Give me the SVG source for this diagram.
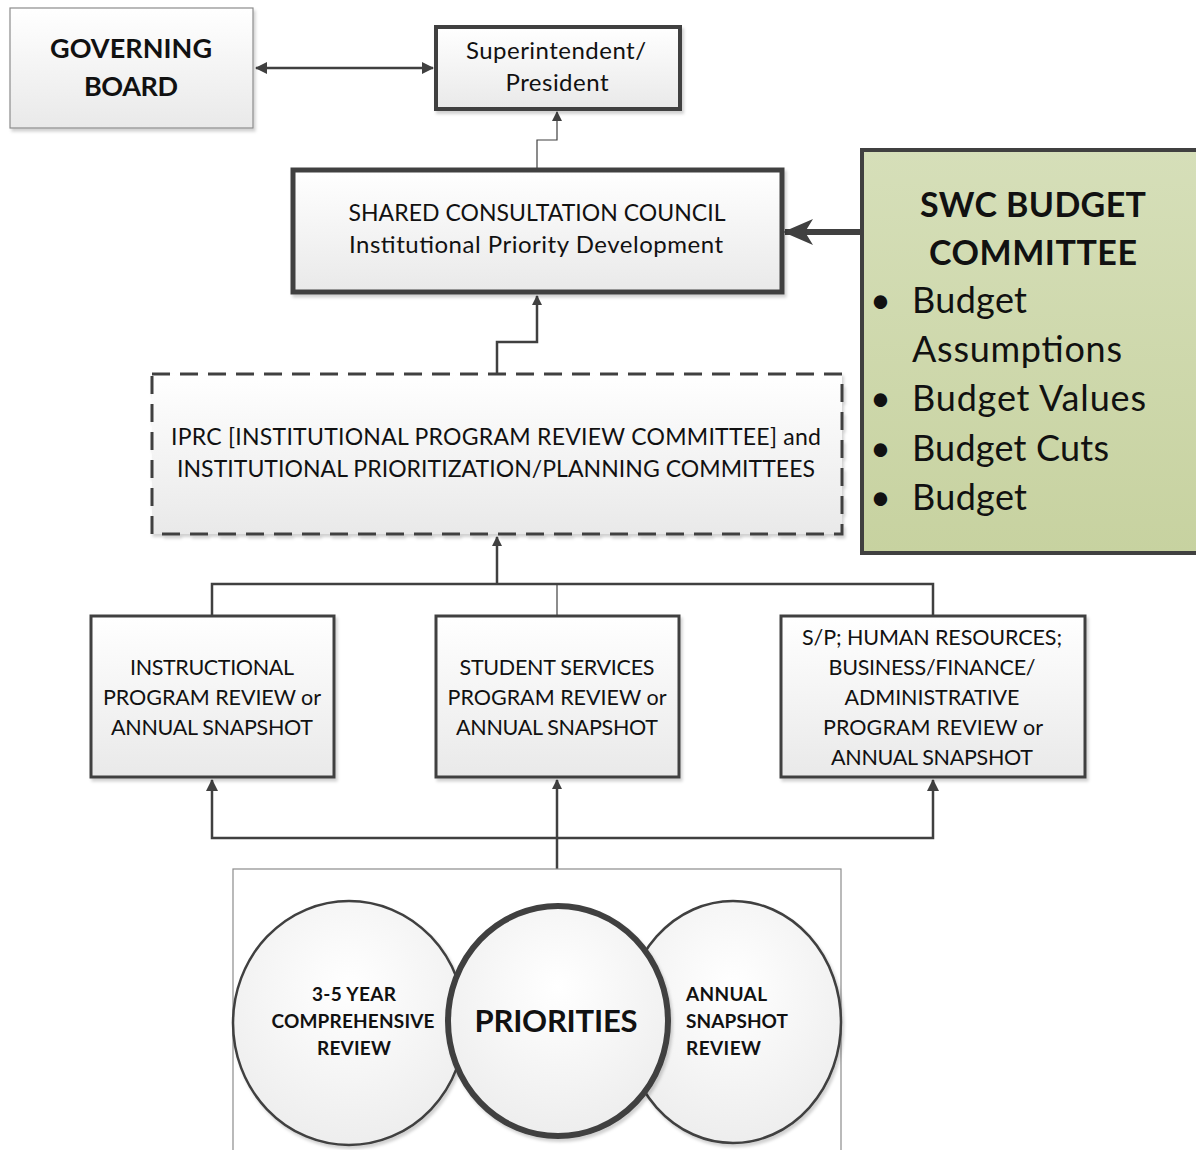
<svg xmlns="http://www.w3.org/2000/svg" width="1196" height="1150" viewBox="0 0 1196 1150">
  <defs>
    <linearGradient id="gBox" x1="0" y1="0" x2="0" y2="1">
      <stop offset="0" stop-color="#ffffff"/>
      <stop offset="1" stop-color="#e9e9e9"/>
    </linearGradient>
    <linearGradient id="gGreen" x1="0" y1="0" x2="0" y2="1">
      <stop offset="0" stop-color="#d6dfb9"/>
      <stop offset="1" stop-color="#c7d2a0"/>
    </linearGradient>
    <radialGradient id="gCircle" cx="0.5" cy="0.35" r="0.7">
      <stop offset="0" stop-color="#ffffff"/>
      <stop offset="1" stop-color="#ececec"/>
    </radialGradient>
    <marker id="arrow" markerWidth="10" markerHeight="10" refX="9" refY="5" orient="auto" markerUnits="userSpaceOnUse" viewBox="0 0 10 10">
      <path d="M0,0 L10,5 L0,10 Z" fill="#404040"/>
    </marker>
    <marker id="arrowStart" markerWidth="12" markerHeight="12" refX="1" refY="6" orient="auto" markerUnits="userSpaceOnUse" viewBox="0 0 12 12">
      <path d="M12,0 L0,6 L12,12 Z" fill="#404040"/>
    </marker>
    <marker id="arrowEnd" markerWidth="12" markerHeight="12" refX="11" refY="6" orient="auto" markerUnits="userSpaceOnUse" viewBox="0 0 12 12">
      <path d="M0,0 L12,6 L0,12 Z" fill="#404040"/>
    </marker>
    <marker id="arrowBig" markerWidth="30" markerHeight="26" refX="28" refY="13" orient="auto" markerUnits="userSpaceOnUse" viewBox="0 0 30 26">
      <path d="M30,13 L0,0 L8,13 L0,26 Z" fill="#404040"/>
    </marker>
    <filter id="shadow" x="-5%" y="-5%" width="112%" height="115%">
      <feDropShadow dx="2" dy="3" stdDeviation="1.5" flood-color="#000" flood-opacity="0.18"/>
    </filter>
  </defs>
  <style>
    text { font-family: Lato, "Open Sans", "Liberation Sans", sans-serif; fill: #111; text-anchor: middle; }
    .box { fill: url(#gBox); stroke: #404040; stroke-width: 3; filter: url(#shadow); }
    .label { font-size: 21.5px; }
    .big { font-size: 24px; }
    .bold { font-weight: bold; }
    .small { font-size: 19px; font-weight: bold; }
    .left { text-anchor: start; }
    .conn { fill: none; stroke: #404040; stroke-width: 2.5; }
    .thin { fill: none; stroke: #404040; stroke-width: 1.2; }
    .bullet { font-size: 36px; text-anchor: start; }
  </style>

  <rect width="1196" height="1150" fill="#ffffff"/>

  <!-- Connectors -->
  <g id="connectors">
    <line class="conn" x1="256" y1="68" x2="433" y2="68" marker-start="url(#arrowStart)" marker-end="url(#arrowEnd)"/>
    <polyline class="thin" points="537,170 537,140 557,140 557,112" marker-end="url(#arrow)"/>
    <polyline class="conn" points="497,374 497,342 537,342 537,296" marker-end="url(#arrow)"/>
    <line x1="864" y1="232" x2="785" y2="232" stroke="#404040" stroke-width="6" marker-end="url(#arrowBig)"/>
    <line x1="864" y1="224" x2="864" y2="252" stroke="#404040" stroke-width="6" stroke-linecap="round"/>
    <line class="conn" x1="497" y1="584" x2="497" y2="537" marker-end="url(#arrow)"/>
    <polyline class="conn" points="212,616 212,584 933,584 933,616"/>
    <line class="thin" x1="557" y1="584" x2="557" y2="616"/>
    <polyline class="conn" points="212,780 212,838 933,838 933,780" marker-start="url(#arrowStart)" marker-end="url(#arrowEnd)"/>
    <line class="conn" x1="557" y1="869" x2="557" y2="780" marker-end="url(#arrow)"/>
  </g>

  <!-- Governing board -->
  <g id="governing-board">
    <rect x="10" y="8" width="243" height="120" fill="url(#gBox)" stroke="#8c8c8c" stroke-width="1.2" filter="url(#shadow)"/>
    <text x="131" y="58" font-size="27" class="bold" textLength="162">GOVERNING</text>
    <text x="131" y="96" font-size="27" class="bold" textLength="94">BOARD</text>
  </g>

  <!-- Superintendent / President -->
  <g id="superintendent">
    <rect class="box" x="436" y="27" width="244" height="82" style="stroke-width:4"/>
    <text class="big" x="556" y="59" textLength="180">Superintendent/</text>
    <text class="big" x="557" y="91" textLength="103">President</text>
  </g>

  <!-- Shared Consultation Council -->
  <g id="shared-consultation-council">
    <rect class="box" x="293" y="170" width="489" height="122" style="stroke-width:5"/>
    <text x="537" y="221" font-size="23" textLength="377">SHARED CONSULTATION COUNCIL</text>
    <text class="big" x="536" y="253" textLength="374">Institutional Priority Development</text>
  </g>

  <!-- SWC Budget Committee -->
  <g id="budget-committee">
    <rect x="862" y="150" width="340" height="403" fill="url(#gGreen)" stroke="#404040" stroke-width="4"/>
    <text x="1033" y="217" font-size="34" class="bold" textLength="226">SWC BUDGET</text>
    <text x="1033" y="265" font-size="34" class="bold" textLength="208">COMMITTEE</text>
    <text class="bullet" x="870" y="313">•</text>
    <text class="bullet" x="912" y="313" textLength="115">Budget</text>
    <text class="bullet" x="912" y="362" textLength="210">Assumptions</text>
    <text class="bullet" x="870" y="411">•</text>
    <text class="bullet" x="912" y="411" textLength="234">Budget Values</text>
    <text class="bullet" x="870" y="461">•</text>
    <text class="bullet" x="912" y="461" textLength="197">Budget Cuts</text>
    <text class="bullet" x="870" y="510">•</text>
    <text class="bullet" x="912" y="510" textLength="115">Budget</text>
  </g>

  <!-- IPRC and planning committees -->
  <g id="iprc">
    <rect x="152" y="374" width="690" height="160" fill="url(#gBox)" stroke="#404040" stroke-width="3" stroke-dasharray="18,10" filter="url(#shadow)"/>
    <text x="496" y="445" font-size="23" textLength="650">IPRC [INSTITUTIONAL PROGRAM REVIEW COMMITTEE] and</text>
    <text x="496" y="477" font-size="23" textLength="638">INSTITUTIONAL PRIORITIZATION/PLANNING COMMITTEES</text>
  </g>

  <!-- Instructional program review -->
  <g id="instructional">
    <rect class="box" x="91" y="616" width="243" height="161"/>
    <text class="label" x="212" y="675" textLength="164">INSTRUCTIONAL</text>
    <text class="label" x="212" y="705" textLength="218">PROGRAM REVIEW or</text>
    <text class="label" x="212" y="735" textLength="202">ANNUAL SNAPSHOT</text>
  </g>

  <!-- Student services program review -->
  <g id="student-services">
    <rect class="box" x="436" y="616" width="243" height="161"/>
    <text class="label" x="557" y="675" textLength="195">STUDENT SERVICES</text>
    <text class="label" x="557" y="705" textLength="219">PROGRAM REVIEW or</text>
    <text class="label" x="557" y="735" textLength="202">ANNUAL SNAPSHOT</text>
  </g>

  <!-- Administrative program review -->
  <g id="administrative">
    <rect class="box" x="781" y="616" width="304" height="161"/>
    <text class="label" x="932" y="645" textLength="260">S/P; HUMAN RESOURCES;</text>
    <text class="label" x="932" y="675" textLength="207">BUSINESS/FINANCE/</text>
    <text class="label" x="932" y="705" textLength="175">ADMINISTRATIVE</text>
    <text class="label" x="933" y="735" textLength="220">PROGRAM REVIEW or</text>
    <text class="label" x="932" y="765" textLength="202">ANNUAL SNAPSHOT</text>
  </g>

  <!-- Review cycle / priorities -->
  <g id="priorities">
    <rect x="233" y="869" width="608" height="290" fill="#ffffff" stroke="#8c8c8c" stroke-width="1.2"/>
    <ellipse cx="349" cy="1023" rx="116" ry="122" fill="url(#gCircle)" stroke="#404040" stroke-width="2.5" filter="url(#shadow)"/>
    <ellipse cx="733" cy="1022" rx="108" ry="121" fill="url(#gCircle)" stroke="#404040" stroke-width="2.5" filter="url(#shadow)"/>
    <ellipse cx="558" cy="1021" rx="110" ry="115" fill="url(#gCircle)" stroke="#404040" stroke-width="6" filter="url(#shadow)"/>
    <text class="small" x="354" y="1001" textLength="84">3-5 YEAR</text>
    <text class="small" x="353" y="1028" textLength="163">COMPREHENSIVE</text>
    <text class="small" x="354" y="1055" textLength="74">REVIEW</text>
    <text x="556" y="1032" font-size="31" class="bold" textLength="163">PRIORITIES</text>
    <text class="small left" x="686" y="1001" textLength="81">ANNUAL</text>
    <text class="small left" x="686" y="1028" textLength="102">SNAPSHOT</text>
    <text class="small left" x="686" y="1055" textLength="75">REVIEW</text>
  </g>
</svg>
